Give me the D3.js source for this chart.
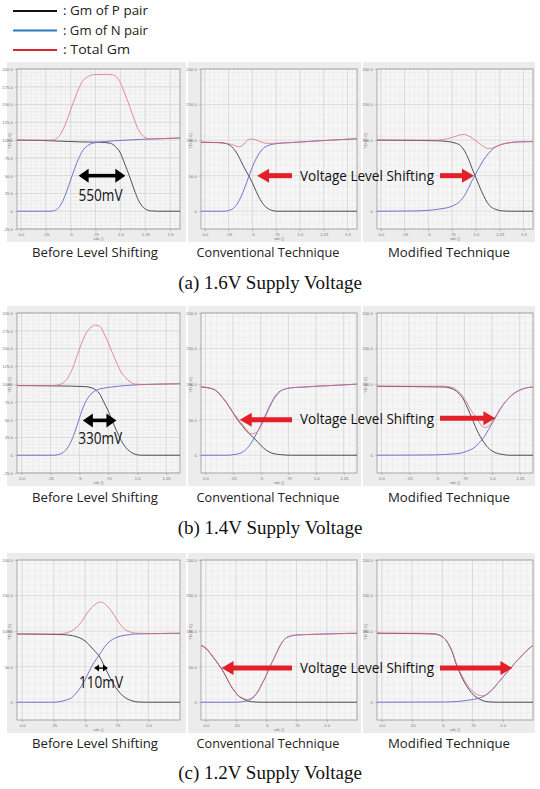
<!DOCTYPE html>
<html>
<head>
<meta charset="utf-8">
<script src="https://cdn.jsdelivr.net/npm/d3@7"></script>
<style>
body { margin: 0; background: #fff; }
svg { display: block; }
</style>
</head>
<body>
<svg id="fig" width="540" height="789"></svg>
<script>
// ---- texts
const legendLabels = [": Gm of P pair", ": Gm of N pair", ": Total Gm"]
const legendWidths = [85, 85, 67]
const subTitles = ["Before Level Shifting", "Conventional Technique", "Modified Technique"]
const captions = ["(a) 1.6V Supply Voltage", "(b) 1.4V Supply Voltage", "(c) 1.2V Supply Voltage"]
const overlapLabels = ["550mV", "330mV", "110mV"]
const shiftLabel = "Voltage Level Shifting"

// ---- axes
const xMax = [1.6, 1.37, 1.25]
const xTicks = [[0, .25, .5, .75, 1, 1.25, 1.5], [0, .25, .5, .75, 1, 1.25], [0, .25, .5, .75, 1]]
const xTickText = {0: "0.0", 0.25: ".25", 0.5: ".5", 0.75: ".75", 1: "1.0", 1.25: "1.25", 1.5: "1.5"}
const yTicksFine = [200, 175, 150, 125, 100, 75, 50, 25, 0, -25]
const yTicksCoarse = [200, 150, 100, 50, 0]

// ---- (a) 1.6V
const a1P = [[-0.04,100],[0.2,99.5],[0.4,98.5],[0.6,97.5],[0.8,97],[0.9,95.5],[0.95,91],[1.0,82],[1.04,68],[1.09,50],[1.14,30],[1.18,16],[1.22,7],[1.26,2.5],[1.3,0.5],[1.38,0],[1.6,0]]
const a1N = [[-0.04,0],[0.3,0],[0.34,1],[0.38,5],[0.42,14],[0.46,28],[0.5,44],[0.54,60],[0.58,74],[0.62,85],[0.67,92],[0.73,96],[0.85,98],[1.0,99.5],[1.2,101],[1.4,102],[1.6,103]]
const a1T = [[-0.04,100],[0.3,100],[0.34,101],[0.38,105],[0.42,114],[0.46,127],[0.5,143],[0.54,158],[0.58,172],[0.62,183],[0.67,189],[0.73,192],[0.85,192.5],[0.92,192],[0.96,189],[1.0,181],[1.04,167],[1.09,149],[1.14,129],[1.18,115],[1.22,107],[1.26,103],[1.3,101.5],[1.4,102],[1.6,103]]

const a2P = [[-0.04,97],[0.15,96.5],[0.23,95],[0.28,91],[0.32,85],[0.36,76],[0.4,65],[0.44,55],[0.47,48],[0.5,40],[0.54,28],[0.58,17],[0.62,9],[0.66,4],[0.7,1.5],[0.75,0],[1.6,0]]
const a2N = [[-0.04,0],[0.2,0],[0.25,1],[0.3,4],[0.34,10],[0.38,20],[0.42,33],[0.46,48],[0.5,62],[0.54,74],[0.58,83],[0.62,89],[0.68,93],[0.75,95],[0.9,96.5],[1.2,99],[1.6,102]]
const a2T = [[-0.04,97],[0.15,96.5],[0.23,95],[0.28,94],[0.32,92],[0.36,90.5],[0.4,93],[0.44,99],[0.48,101.5],[0.52,101],[0.56,99],[0.6,97],[0.66,95.5],[0.72,95.5],[0.8,96],[0.9,96.5],[1.2,99],[1.6,102]]

const a3P = [[-0.04,100],[0.4,99.5],[0.6,99],[0.7,98],[0.78,96],[0.84,92],[0.88,85],[0.92,74],[0.96,60],[1.0,47],[1.04,34],[1.08,22],[1.12,12],[1.16,6],[1.21,2.5],[1.27,0.5],[1.35,0],[1.6,0]]
const a3N = [[-0.04,0],[0.3,0.3],[0.48,1],[0.61,3],[0.7,5],[0.78,9],[0.84,15],[0.88,22],[0.92,32],[0.96,43],[1.0,53],[1.04,63],[1.08,72],[1.13,81],[1.18,88],[1.24,92.5],[1.34,96],[1.45,97.5],[1.6,98]]
const a3T = [[-0.04,100],[0.4,100],[0.6,100],[0.7,102],[0.78,105],[0.84,107.5],[0.88,108],[0.92,106],[0.96,103],[1.0,99],[1.04,95],[1.08,91],[1.12,88.5],[1.16,88.5],[1.21,91],[1.27,94],[1.35,96.5],[1.45,97.5],[1.6,98]]

// ---- (b) 1.4V
const b1P = [[-0.04,98],[0.3,97.5],[0.55,96.5],[0.6,95],[0.64,92],[0.68,85],[0.71,75],[0.75,62],[0.78,50],[0.82,35],[0.86,21],[0.9,11],[0.94,5],[0.98,1.5],[1.03,0],[1.37,0]]
const b1N = [[-0.04,0],[0.28,0],[0.32,1],[0.36,4],[0.4,11],[0.44,24],[0.48,42],[0.52,62],[0.56,77],[0.6,86],[0.64,91],[0.7,94],[0.78,96],[0.9,98],[1.0,99],[1.2,100],[1.37,100.5]]
const b1T = [[-0.04,98],[0.28,98],[0.32,99],[0.36,102],[0.4,109],[0.44,122],[0.48,140],[0.52,158],[0.56,172],[0.6,180],[0.64,183],[0.68,181],[0.71,172],[0.75,158],[0.78,146],[0.82,131],[0.86,117],[0.9,109],[0.94,103],[0.98,100],[1.05,99.5],[1.2,100],[1.37,100.5]]

const b2P = [[-0.04,96],[0.05,94],[0.11,89],[0.15,82],[0.19,74],[0.24,62],[0.29,50],[0.34,40],[0.39,31],[0.44,24],[0.5,14],[0.55,7],[0.6,3],[0.68,0.8],[0.78,0],[1.37,0]]
const b2N = [[-0.04,0],[0.2,0],[0.25,0.8],[0.3,2],[0.35,6],[0.4,14],[0.44,24],[0.48,36],[0.53,52],[0.57,66],[0.61,78],[0.65,87],[0.7,92],[0.79,95],[0.9,96],[1.0,97],[1.2,98.5],[1.37,100]]
const b2T = [[-0.04,96],[0.05,94],[0.11,89],[0.15,82],[0.19,74],[0.24,62],[0.29,52],[0.34,42],[0.38,34],[0.42,30],[0.46,32],[0.5,40],[0.54,53],[0.58,67],[0.62,79],[0.66,87],[0.7,92],[0.79,95],[0.9,96],[1.0,97],[1.2,98.5],[1.37,100]]

const b3P = [[-0.04,97],[0.3,96.5],[0.57,96],[0.62,94.5],[0.66,92],[0.7,87],[0.74,79],[0.78,66],[0.81,55],[0.85,40],[0.88,30],[0.91,22],[0.95,13],[1.0,6],[1.05,2.5],[1.1,1],[1.15,0],[1.37,0]]
const b3N = [[-0.04,0],[0.4,0.3],[0.57,1],[0.66,2],[0.72,3],[0.77,5.5],[0.81,8],[0.85,12],[0.88,17],[0.91,22],[0.95,31],[0.99,42],[1.02,50],[1.06,61],[1.1,71],[1.15,80],[1.2,87],[1.26,92],[1.32,95],[1.37,96]]
const b3T = [[-0.04,97],[0.3,97],[0.57,97],[0.62,96],[0.66,94],[0.7,89],[0.74,82],[0.78,72],[0.81,63],[0.85,55],[0.88,47],[0.91,41],[0.94,39],[0.97,41],[1.0,47],[1.04,57],[1.08,67],[1.13,77],[1.18,85],[1.24,91],[1.3,94.5],[1.37,96]]

// ---- (c) 1.2V
const c1P = [[-0.04,96],[0.2,95.5],[0.33,95],[0.4,93.5],[0.45,91],[0.5,86],[0.54,79],[0.58,71],[0.61,65],[0.64,55],[0.67,44],[0.7,33],[0.74,21],[0.78,12],[0.83,5],[0.87,2],[0.92,0.3],[1.0,0],[1.25,0]]
const c1N = [[-0.04,0],[0.25,0],[0.3,1],[0.35,3],[0.39,6],[0.43,13],[0.46,20],[0.5,32],[0.53,43],[0.57,56],[0.61,66],[0.65,77],[0.69,85],[0.74,90.5],[0.78,93],[0.85,95],[0.9,96],[1.05,96.5],[1.25,97]]
const c1T = [[-0.04,96],[0.25,96],[0.3,96],[0.35,97.5],[0.39,100],[0.43,105],[0.47,113],[0.51,124],[0.55,133],[0.59,139],[0.62,141],[0.65,139],[0.69,132],[0.73,122],[0.77,111],[0.81,103],[0.86,98.5],[0.92,97],[1.05,96.5],[1.25,97]]

const c2P = [[-0.04,80],[0.0,76],[0.04,68],[0.08,59],[0.13,47],[0.17,35],[0.2,25],[0.24,15],[0.27,9],[0.31,4.5],[0.34,2],[0.38,0.8],[0.45,0],[1.25,0]]
const c2N = [[-0.04,0],[0.25,0],[0.3,0.6],[0.34,2],[0.38,5],[0.42,12],[0.46,24],[0.5,38],[0.53,50],[0.57,64],[0.6,75],[0.63,84],[0.66,90],[0.7,93],[0.75,94.5],[0.9,95.5],[1.1,96.5],[1.25,97]]
const c2T = [[-0.04,80],[0.0,76],[0.04,68],[0.08,59],[0.13,47],[0.17,35],[0.2,25],[0.24,15],[0.27,9],[0.31,5.5],[0.34,4],[0.37,5],[0.4,9],[0.43,15],[0.46,25],[0.5,38],[0.53,50],[0.57,64],[0.6,75],[0.63,84],[0.66,90],[0.7,93],[0.75,94.5],[0.9,95.5],[1.1,96.5],[1.25,97]]

const c3P = [[-0.04,97],[0.3,96.5],[0.44,96],[0.48,94],[0.51,91],[0.54,85],[0.56,79],[0.59,67],[0.61,56],[0.64,43],[0.68,29],[0.72,18],[0.76,10],[0.8,5],[0.84,2],[0.88,0.5],[0.95,0],[1.25,0]]
const c3N = [[-0.04,0],[0.5,0.3],[0.62,1],[0.7,2.5],[0.76,4],[0.81,6],[0.85,9],[0.88,13],[0.92,19],[0.96,27],[1.0,35],[1.05,45],[1.1,55],[1.15,64],[1.2,73],[1.25,80]]
const c3T = [[-0.04,97],[0.3,97],[0.44,96],[0.48,94],[0.51,91],[0.54,85],[0.56,79],[0.59,68],[0.61,57],[0.64,45],[0.68,32],[0.72,21],[0.76,14],[0.8,10],[0.83,9],[0.86,10],[0.9,15],[0.95,25],[1.0,35],[1.05,45],[1.1,55],[1.15,64],[1.2,73],[1.25,80]]

// annotation anchors in data units
const overlapSpan = [[0.58, 1.05, 50], [0.53, 0.82, 49], [0.57, 0.68, 48]]
const overlapText = [[0.8, 22], [0.68, 24], [0.625, 28]]
const shiftTipLeft = [[0.55, 50], [0.31, 50], [0.13, 48]]
const shiftTipRight = [[0.98, 50], [1.03, 52], [1.08, 48]]

const panels = [
  {row: 0, col: 0, p: a1P, n: a1N, t: a1T, yt: yTicksFine},
  {row: 0, col: 1, p: a2P, n: a2N, t: a2T, yt: yTicksCoarse},
  {row: 0, col: 2, p: a3P, n: a3N, t: a3T, yt: yTicksCoarse},
  {row: 1, col: 0, p: b1P, n: b1N, t: b1T, yt: yTicksFine},
  {row: 1, col: 1, p: b2P, n: b2N, t: b2T, yt: yTicksCoarse},
  {row: 1, col: 2, p: b3P, n: b3N, t: b3T, yt: yTicksCoarse},
  {row: 2, col: 0, p: c1P, n: c1N, t: c1T, yt: yTicksCoarse},
  {row: 2, col: 1, p: c2P, n: c2N, t: c2T, yt: yTicksCoarse},
  {row: 2, col: 2, p: c3P, n: c3N, t: c3T, yt: yTicksCoarse}
]

// ---- layout
const frameTop = [62, 306, 553]
const frameH = 180
const frameLeft = [7, 188, 363]
const frameW = [179, 173, 172]
const insetL = [10, 13, 14], insetR = [6, 4, 2], insetT = 7, insetB = 13
const subY = [257, 502, 748]
const capY = [289, 534, 779]
const subX = [95, 268, 449]
const subW = [126, 143, 122]

const colP = "#3c3c48", colN = "#6464c8", colT = "#dc6a78"
const uiFont = "'Open Sans', Lato, sans-serif"

const svg = d3.select("#fig")

// legend
const legendCols = ["#111", "#2b7cc0", "#d9262c"]
legendLabels.forEach((s, i) => {
  const y = 11 + i * 19.5
  svg.append("line").attr("x1", 13).attr("x2", 57).attr("y1", y).attr("y2", y)
    .attr("stroke", legendCols[i]).attr("stroke-width", 2)
  svg.append("text").attr("x", 63).attr("y", y + 4).text(s)
    .attr("font-family", uiFont).attr("font-size", 12.5).attr("fill", "#222")
    .attr("textLength", legendWidths[i]).attr("lengthAdjust", "spacingAndGlyphs")
})

const scales = {}

panels.forEach((pn, idx) => {
  const fx = frameLeft[pn.col], fy = frameTop[pn.row]
  const left = fx + insetL[pn.col], right = fx + frameW[pn.col] - insetR[pn.col]
  const top = fy + insetT, bottom = fy + frameH - insetB
  const x = d3.scaleLinear().domain([-0.04, xMax[pn.row]]).range([left, right])
  const y = d3.scaleLinear().domain([-25, 200]).range([bottom, top])
  scales[pn.row + "-" + pn.col] = {x, y}

  const g = svg.append("g")
  g.append("rect").attr("x", fx).attr("y", fy).attr("width", frameW[pn.col]).attr("height", frameH)
    .attr("fill", "#ececec")
  g.append("rect").attr("x", left).attr("y", top).attr("width", right - left).attr("height", bottom - top)
    .attr("fill", "#f6f6f6")

  // grid
  const minorX = d3.range(0, xMax[pn.row] + 1e-6, 0.05)
  const minorY = d3.range(-25, 200.1, pn.yt === yTicksFine ? 5 : 10)
  g.selectAll(".mx").data(minorX).join("line")
    .attr("x1", d => x(d)).attr("x2", d => x(d)).attr("y1", top).attr("y2", bottom)
    .attr("stroke", "#e6e6e6").attr("stroke-width", 0.5)
  g.selectAll(".my").data(minorY).join("line")
    .attr("y1", d => y(d)).attr("y2", d => y(d)).attr("x1", left).attr("x2", right)
    .attr("stroke", "#e6e6e6").attr("stroke-width", 0.5)
  g.selectAll(".gx").data(xTicks[pn.row]).join("line")
    .attr("x1", d => x(d)).attr("x2", d => x(d)).attr("y1", top).attr("y2", bottom)
    .attr("stroke", "#d2d2d2").attr("stroke-width", 0.7)
  g.selectAll(".gy").data(pn.yt).join("line")
    .attr("y1", d => y(d)).attr("y2", d => y(d)).attr("x1", left).attr("x2", right)
    .attr("stroke", "#d2d2d2").attr("stroke-width", 0.7)
  g.append("rect").attr("x", left).attr("y", top).attr("width", right - left).attr("height", bottom - top)
    .attr("fill", "none").attr("stroke", "#9a9a9a").attr("stroke-width", 0.8)

  // axes (in the right column the 50.0 label sits under the annotation text, as in the original)
  const hidden = pn.col === 2 ? [50] : []
  const xa = g.append("g").attr("transform", `translate(0,${bottom})`)
    .call(d3.axisBottom(x).tickValues(xTicks[pn.row]).tickSize(2).tickFormat(d => xTickText[d]))
  const ya = g.append("g").attr("transform", `translate(${left},0)`)
    .call(d3.axisLeft(y).tickValues(pn.yt).tickSize(2)
      .tickFormat(d => hidden.includes(d) ? "" : (d === 0 ? "0" : d.toFixed(1))))
  ;[xa, ya].forEach(a => {
    a.select(".domain").remove()
    a.selectAll("line").attr("stroke", "#888").attr("stroke-width", 0.5)
    a.selectAll("text").attr("font-size", 4.2).attr("fill", "#777")
      .attr("font-family", "'Liberation Sans', Arial, sans-serif")
  })
  ya.selectAll("text").filter(function () { return this.textContent === "" }).remove()
  xa.selectAll("text").attr("dy", "0.45em")
  ya.selectAll("text").attr("dx", "0.2em")
  g.append("text").attr("x", (left + right) / 2).attr("y", bottom + 11).attr("text-anchor", "middle")
    .attr("font-size", 4).attr("fill", "#777").attr("font-family", "'Liberation Sans', Arial, sans-serif")
    .text("vdc ()")
  g.append("text").attr("transform", `translate(${fx + 4},${(top + bottom) / 2 - 8}) rotate(-90)`)
    .attr("text-anchor", "middle").attr("font-size", 4).attr("fill", "#777")
    .attr("font-family", "'Liberation Sans', Arial, sans-serif").text("YD (E-6)")

  // curves
  const clipId = "clip" + idx
  g.append("clipPath").attr("id", clipId).append("rect")
    .attr("x", left).attr("y", top).attr("width", right - left).attr("height", bottom - top)
  const line = d3.line().x(d => x(d[0])).y(d => y(d[1])).curve(d3.curveMonotoneX)
  const cg = g.append("g").attr("clip-path", `url(#${clipId})`)
  cg.append("path").attr("d", line(pn.p)).attr("fill", "none").attr("stroke", colP).attr("stroke-width", 0.9)
  cg.append("path").attr("d", line(pn.n)).attr("fill", "none").attr("stroke", colN).attr("stroke-width", 0.9)
  cg.append("path").attr("d", line(pn.t)).attr("fill", "none").attr("stroke", colT).attr("stroke-width", 0.9)
    .attr("stroke-opacity", 0.85)
})

// sub titles and captions
subY.forEach((sy, r) => {
  subTitles.forEach((s, c) => {
    svg.append("text").attr("x", subX[c]).attr("y", sy).attr("text-anchor", "middle")
      .attr("font-family", uiFont).attr("font-size", 13.5).attr("fill", "#222")
      .attr("textLength", subW[c]).attr("lengthAdjust", "spacingAndGlyphs").text(s)
  })
  svg.append("text").attr("x", 270).attr("y", capY[r]).attr("text-anchor", "middle")
    .attr("font-family", "'Liberation Serif', 'Times New Roman', serif").attr("font-size", 19)
    .attr("fill", "#111").text(captions[r])
})

// arrows
function arrow(x1, y1, x2, y2, color, shaft, headLen, headHalf, both) {
  const ang = Math.atan2(y2 - y1, x2 - x1)
  const ux = Math.cos(ang), uy = Math.sin(ang)
  const head = (tx, ty, dx, dy) => {
    const bx = tx - dx * headLen, by = ty - dy * headLen
    return [[tx, ty], [bx - dy * headHalf, by + dx * headHalf], [bx + dy * headHalf, by - dx * headHalf]]
  }
  const sx = both ? x1 + ux * headLen * 0.8 : x1, sy = both ? y1 + uy * headLen * 0.8 : y1
  svg.append("line").attr("x1", sx).attr("y1", sy)
    .attr("x2", x2 - ux * headLen * 0.8).attr("y2", y2 - uy * headLen * 0.8)
    .attr("stroke", color).attr("stroke-width", shaft)
  svg.append("polygon").attr("points", head(x2, y2, ux, uy).join(" ")).attr("fill", color)
  if (both) svg.append("polygon").attr("points", head(x1, y1, -ux, -uy).join(" ")).attr("fill", color)
}

overlapLabels.forEach((s, r) => {
  const {x, y} = scales[r + "-0"]
  const sp = overlapSpan[r]
  const hl = r === 2 ? 5 : 10, hh = r === 2 ? 3.5 : 7
  arrow(x(sp[0]), y(sp[2]), x(sp[1]), y(sp[2]), "#000", r === 2 ? 1.4 : 3.6, hl, hh, true)
  svg.append("text").attr("x", x(overlapText[r][0])).attr("y", y(overlapText[r][1]))
    .attr("dy", "0.35em").attr("text-anchor", "middle")
    .attr("font-family", uiFont).attr("font-size", 16).attr("fill", "#111")
    .attr("textLength", 44).attr("lengthAdjust", "spacingAndGlyphs").text(s)
})

const redArrow = "#e3202a"
shiftTipLeft.forEach((tp, r) => {
  const s2 = scales[r + "-1"], s3 = scales[r + "-2"]
  const ty = s2.y(tp[1])
  arrow(292, ty, s2.x(tp[0]), ty, redArrow, 5, 12, 7, false)
  const rt = shiftTipRight[r]
  const ty3 = s3.y(rt[1])
  arrow(440, ty3, s3.x(rt[0]), ty3, redArrow, 5, 12, 7, false)
  svg.append("text").attr("x", 300).attr("y", (ty + ty3) / 2).attr("dy", "0.35em")
    .attr("font-family", uiFont).attr("font-size", 15).attr("fill", "#111")
    .attr("textLength", 134).attr("lengthAdjust", "spacingAndGlyphs").text(shiftLabel)
})
</script>
</body>
</html>
